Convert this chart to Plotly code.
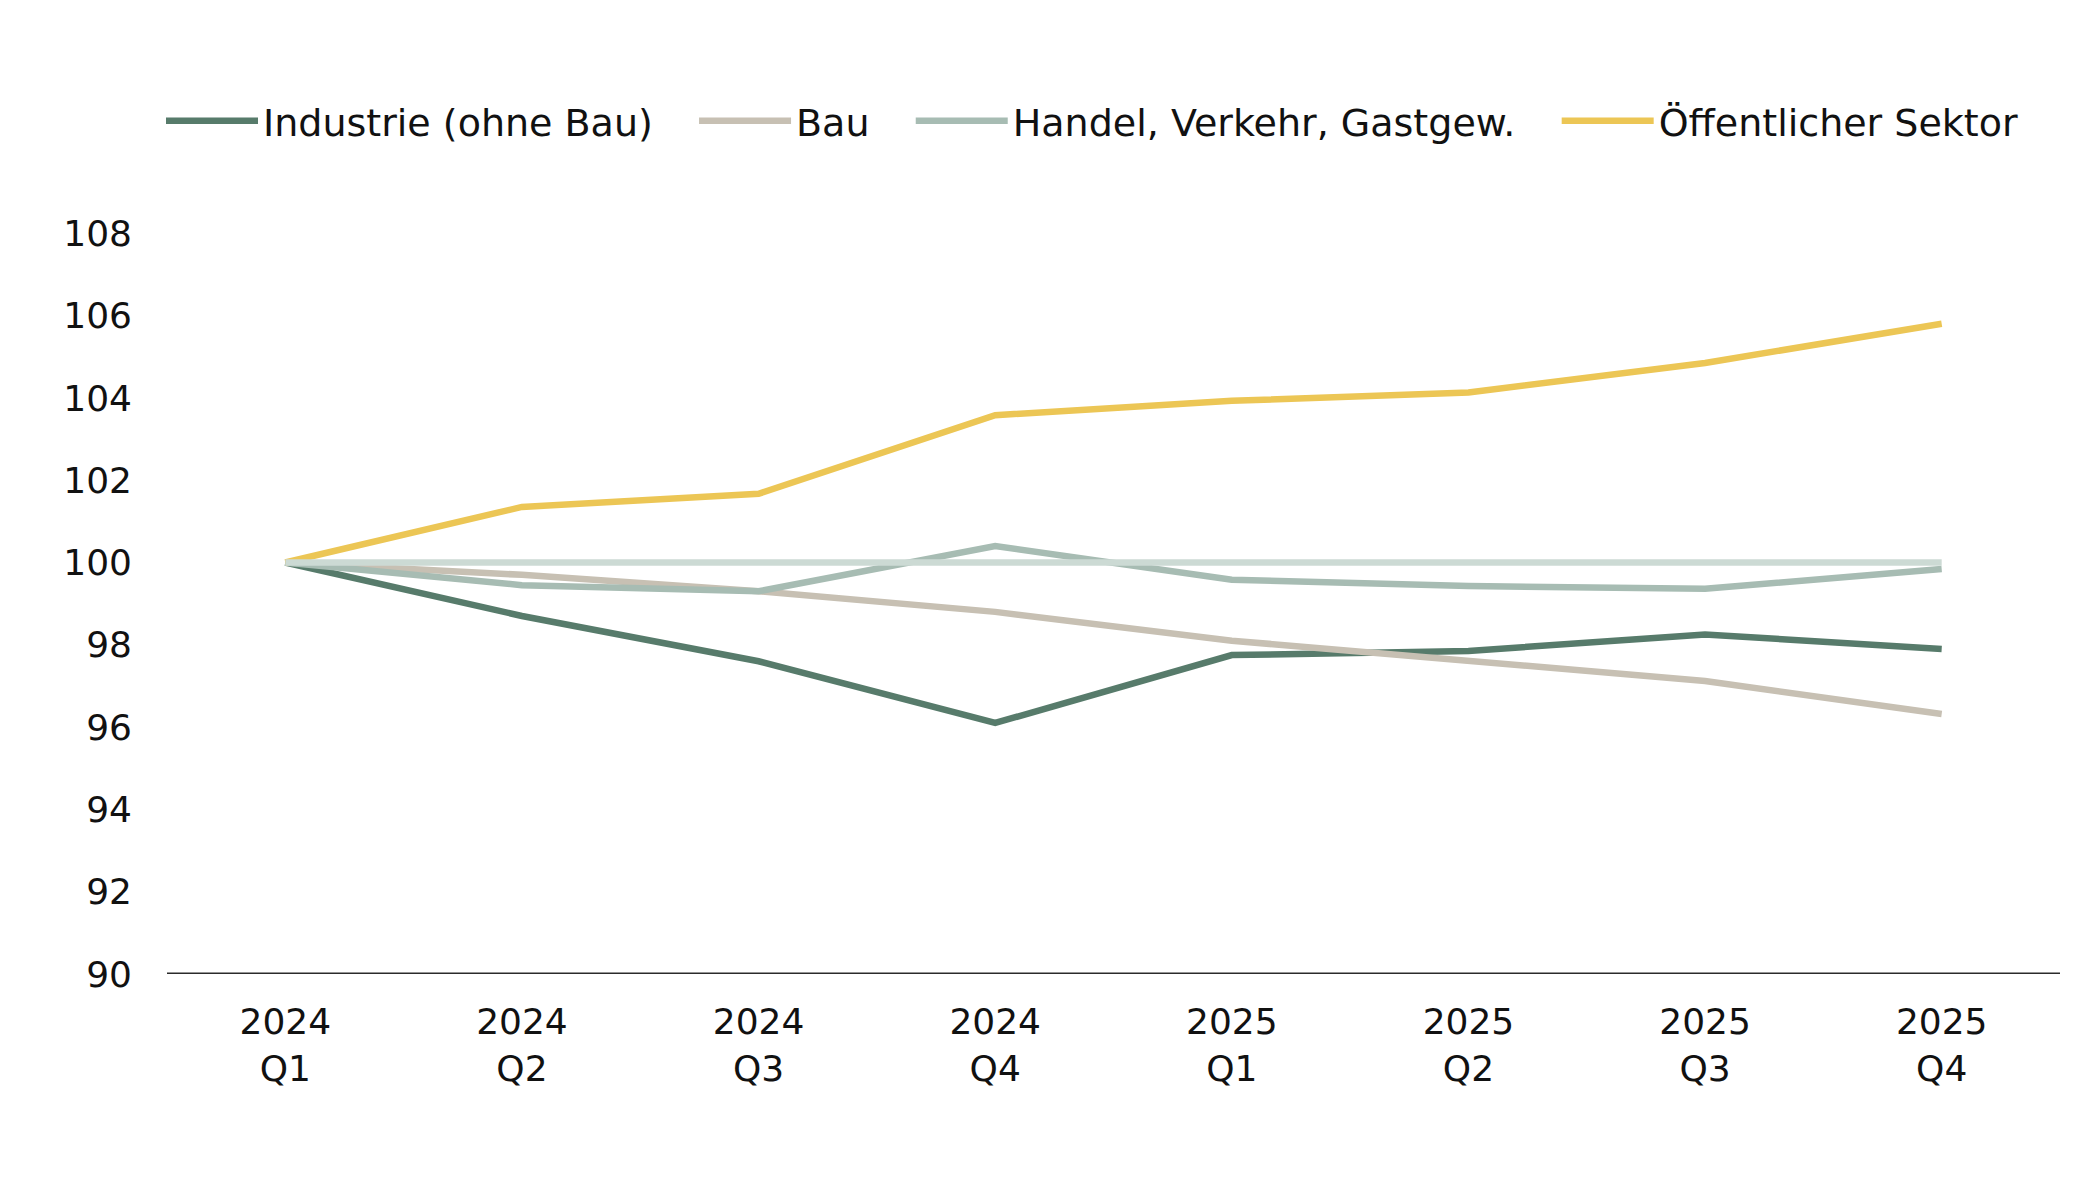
import plotly.graph_objects as go

categories = ["2024<br>Q1", "2024<br>Q2", "2024<br>Q3", "2024<br>Q4",
              "2025<br>Q1", "2025<br>Q2", "2025<br>Q3", "2025<br>Q4"]

industrie = [100.0, 98.7, 97.6, 96.1, 97.75, 97.85, 98.25, 97.9]
bau = [100.0, 99.7, 99.3, 98.8, 98.1, 97.6, 97.12, 96.32]
handel = [100.0, 99.45, 99.3, 100.4, 99.58, 99.43, 99.36, 99.84]
oeffentlich = [100.0, 101.35, 101.67, 103.58, 103.93, 104.13, 104.85, 105.8]
referenz = [100.0] * 8

names = ["Industrie (ohne Bau)", "Bau", "Handel, Verkehr, Gastgew.", "Öffentlicher Sektor"]
colors = ["#577b6b", "#c7c0b3", "#a7bcb3", "#ecc655"]
series = [industrie, bau, handel, oeffentlich]

y_ticks = [90, 92, 94, 96, 98, 100, 102, 104, 106, 108]

FONT = "DejaVu Sans"
PAD = "\u00a0\u00a0\u00a0"
W, H = 2091, 1196

fig = go.Figure()
for i, (name, col, vals) in enumerate(zip(names, colors, series)):
    label = name + (PAD if i < len(names) - 1 else "")
    fig.add_trace(go.Scatter(x=categories, y=vals, mode="lines", name=label,
                             line=dict(color=col, width=6.5)))
fig.add_trace(go.Scatter(x=categories, y=referenz, mode="lines", showlegend=False,
                         line=dict(color="#ccdad4", width=6.5), hoverinfo="skip"))

fig.update_layout(
    width=W, height=H,
    paper_bgcolor="white", plot_bgcolor="white",
    margin=dict(l=159, r=39, t=143, b=230, autoexpand=False),
    font=dict(family=FONT, size=36, color="#111111"),
    showlegend=True,
    legend=dict(orientation="h", xref="container", yref="container",
                x=153 / W, y=1 - 113 / H, xanchor="left", yanchor="middle",
                itemwidth=92, font=dict(family=FONT, size=38, color="#111111"),
                bgcolor="rgba(0,0,0,0)", tracegroupgap=0),
    xaxis=dict(type="category", range=[-0.5, 7.5], showgrid=False, zeroline=False,
               showline=False, ticks="", ticklabelstandoff=23, tickfont=dict(size=36)),
    yaxis=dict(range=[90, 110], tickvals=y_ticks, showgrid=False, zeroline=False,
               showline=False, ticks="", ticklabelstandoff=34, tickfont=dict(size=36)),
    shapes=[dict(type="line", xref="paper", yref="y", x0=0, x1=1, y0=90, y1=90,
                 line=dict(color="#2b2b2b", width=3), layer="above")],
)

fig.write_html("out.html")
